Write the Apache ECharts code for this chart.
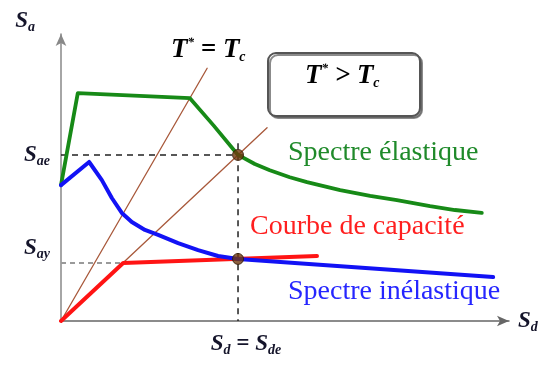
<!DOCTYPE html>
<html>
<head>
<meta charset="utf-8">
<script src="https://cdn.jsdelivr.net/npm/echarts@6/dist/echarts.min.js"></script>
<style>
  html, body { margin: 0; padding: 0; background: #fff; }
  #chart { width: 538px; height: 365px; }
</style>
</head>
<body>
<div id="chart"></div>
<script>
// Spectral displacement Sd (x) and spectral acceleration Sa (y), arbitrary units
const elasticSd = [0, 3.7, 28.4, 33.6, 39.0, 42.7, 46.0, 50.4, 54.2, 61.5, 68.1, 74.0, 81.3, 86.8, 92.7];
const elasticSa = [46.4, 77.8, 76.1, 66.8, 56.7, 53.6, 51.5, 49.1, 47.4, 44.7, 42.7, 41.3, 39.2, 37.9, 36.9];

const inelasticSd = [0, 6.2, 9.0, 11.2, 13.4, 15.6, 18.5, 21.4, 25.8, 30.2, 34.6, 39.0, 95.2];
const inelasticSa = [46.4, 54.3, 48.1, 42.0, 36.9, 33.8, 31.1, 29.4, 26.6, 24.2, 22.2, 21.2, 15.0];

const capacitySd = [0, 13.7, 56.4];
const capacitySa = [0, 19.8, 22.2];

// Constant-period radial lines through the origin
const periodTcSd = [0, 32.2];
const periodTcSa = [0, 86.3];
const periodTSd = [0, 45.4];
const periodTSa = [0, 66.0];

// Performance points
const Sae = 56.7;
const Say = 19.8;
const Sde = 39.0;
const Syd = 13.7;
const perfSa = 21.2;

// Axis tick positions and labels (the yield label carries an empty
// second line so that it sits above its guide line)
const yTickValues = [Say, Sae];
const yTickLabels = ['{s|S}{sub|ay}\n{gap|}', '{s|S}{sub|ae}'];
const xTickValues = [Sde];
const xTickLabels = ['{s|S}{sub|d}{s| = S}{sub|de}'];

const pairs = (xs, ys) => xs.map((x, i) => [x, ys[i]]);

const mathFont = {
  fontFamily: 'Liberation Serif',
  fontStyle: 'italic',
  fontWeight: 'bold',
  color: '#14142a'
};
const mathRich = {
  s: Object.assign({}, mathFont, { fontSize: 23, lineHeight: 26 }),
  sub: Object.assign({}, mathFont, { fontSize: 14, lineHeight: 26, verticalAlign: 'bottom' }),
  sup: Object.assign({}, mathFont, { fontSize: 13, lineHeight: 26, verticalAlign: 'top' }),
  t: Object.assign({}, mathFont, { fontSize: 27, lineHeight: 28 }),
  gap: { fontSize: 10, lineHeight: 30 }
};

const chart = echarts.init(document.getElementById('chart'), null, { renderer: 'canvas' });

const plainLine = (name, data, color, width, extra) => Object.assign({
  name: name,
  type: 'line',
  data: data,
  symbol: 'none',
  silent: true,
  clip: false,
  lineStyle: { color: color, width: width, cap: 'round', join: 'round' },
  z: 3
}, extra || {});

const noteFont = '28px "Liberation Serif"';

chart.setOption({
  animation: false,
  backgroundColor: '#ffffff',
  grid: { left: 61, right: 29, top: 34, bottom: 44, outerBoundsMode: 'none', containLabel: false },
  xAxis: {
    type: 'value',
    min: 0,
    max: 98.7,
    name: '{s|S}{sub|d}',
    nameLocation: 'end',
    nameGap: 9,
    nameTextStyle: { rich: mathRich, align: 'left', verticalAlign: 'middle' },
    axisLine: {
      show: true,
      symbol: ['none', 'arrow'],
      symbolSize: [8, 12],
      lineStyle: { color: '#666', width: 1.5 }
    },
    axisTick: { show: false },
    splitLine: { show: false },
    axisLabel: {
      customValues: xTickValues,
      margin: 10,
      formatter: (v) => xTickLabels[xTickValues.indexOf(v)] || '',
      rich: mathRich,
      padding: [0, 0, 0, 16]
    }
  },
  yAxis: {
    type: 'value',
    min: 0,
    max: 98,
    name: '{s|S}{sub|a}',
    nameLocation: 'end',
    nameGap: 0,
    nameTextStyle: { rich: mathRich, align: 'right', verticalAlign: 'bottom', padding: [0, 26, 0, 0] },
    axisLine: {
      show: true,
      symbol: ['none', 'arrow'],
      symbolSize: [8, 12],
      lineStyle: { color: '#888', width: 1.5 }
    },
    axisTick: { show: false },
    splitLine: { show: false },
    axisLabel: {
      customValues: yTickValues,
      margin: 11,
      formatter: (v) => yTickLabels[yTickValues.indexOf(v)] || '',
      rich: mathRich
    }
  },
  graphic: [
    {
      type: 'rect',
      shape: { x: 268, y: 53, width: 152, height: 63, r: 8 },
      style: {
        fill: '#fff',
        stroke: '#555',
        lineWidth: 2,
        shadowColor: 'rgba(90,90,90,0.7)',
        shadowOffsetX: 2,
        shadowOffsetY: 2,
        shadowBlur: 0
      },
      z: 10
    },
    {
      type: 'text',
      x: 305,
      y: 76,
      style: {
        text: '{t|T}{sup|*}{t| > T}{sub|c}',
        rich: mathRich,
        verticalAlign: 'middle'
      },
      z: 11
    },
    {
      type: 'text',
      x: 171,
      y: 50,
      style: {
        text: '{t|T}{sup|*}{t| = T}{sub|c}',
        rich: mathRich,
        verticalAlign: 'middle'
      },
      z: 11
    },
    {
      type: 'text',
      x: 288,
      y: 153,
      style: {
        text: 'Spectre élastique',
        fill: '#1f8a2a',
        font: noteFont,
        verticalAlign: 'middle'
      },
      z: 11
    },
    {
      type: 'text',
      x: 250,
      y: 227,
      style: {
        text: 'Courbe de capacité',
        fill: '#ff1f1f',
        font: noteFont,
        verticalAlign: 'middle'
      },
      z: 11
    },
    {
      type: 'text',
      x: 288,
      y: 292,
      style: {
        text: 'Spectre inélastique',
        fill: '#2626ff',
        font: noteFont,
        verticalAlign: 'middle'
      },
      z: 11
    }
  ],
  series: [
    plainLine('Guide Sae', [[0, Sae], [Sde + 1.5, Sae]], '#222', 1.5, { lineStyle: { color: '#222', width: 1.5, type: [6, 5] }, z: 2 }),
    plainLine('Guide Sde', [[Sde, Sae + 4], [Sde, 0]], '#222', 1.5, { lineStyle: { color: '#222', width: 1.5, type: [6, 5] }, z: 2 }),
    plainLine('Guide Say', [[0, Say], [Syd, Say]], '#999', 2, { lineStyle: { color: '#9a9a9a', width: 2, type: [5, 4] }, z: 2 }),
    plainLine('T* = Tc', pairs(periodTcSd, periodTcSa), '#a8583a', 1.3, { z: 2 }),
    plainLine('T*', pairs(periodTSd, periodTSa), '#a8583a', 1.3, { z: 2 }),
    plainLine('Spectre élastique', pairs(elasticSd, elasticSa), '#178a17', 3.8),
    plainLine('Courbe de capacité', pairs(capacitySd, capacitySa), '#ff1414', 4),
    plainLine('Spectre inélastique', pairs(inelasticSd, inelasticSa), '#1212f5', 4),
    {
      name: 'Points de performance',
      type: 'scatter',
      data: [[Sde, Sae], [Sde, perfSa]],
      symbol: 'circle',
      symbolSize: 11,
      silent: true,
      itemStyle: { color: '#70380f', borderColor: '#2e1600', borderWidth: 1 },
      z: 5
    }
  ]
});
</script>
</body>
</html>
